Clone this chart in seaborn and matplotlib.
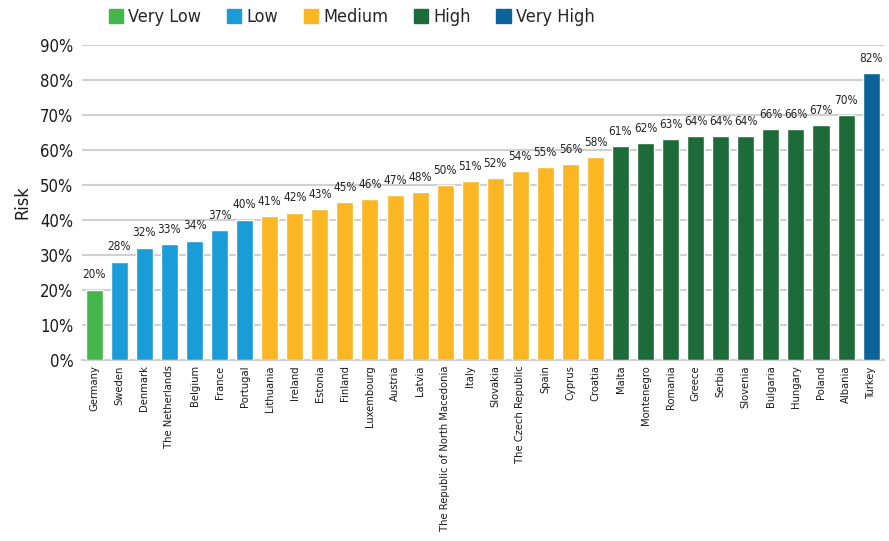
import matplotlib
matplotlib.use("Agg")
import matplotlib.pyplot as plt
from matplotlib.patches import Patch
from matplotlib.ticker import PercentFormatter
import pandas as pd
import seaborn as sns

# data
countries = ['Germany', 'Sweden', 'Denmark', 'The Netherlands', 'Belgium', 'France', 'Portugal',
             'Lithuania', 'Ireland', 'Estonia', 'Finland', 'Luxembourg', 'Austria', 'Latvia',
             'The Republic of North Macedonia', 'Italy', 'Slovakia', 'The Czech Republic', 'Spain',
             'Cyprus', 'Croatia', 'Malta', 'Montenegro', 'Romania', 'Greece', 'Serbia', 'Slovenia',
             'Bulgaria', 'Hungary', 'Poland', 'Albania', 'Turkey']
risk = [20, 28, 32, 33, 34, 37, 40,
        41, 42, 43, 45, 46, 47, 48,
        50, 51, 52, 54, 55,
        56, 58, 61, 62, 63, 64, 64, 64,
        66, 66, 67, 70, 82]
levels = ['Very Low'] + ['Low'] * 6 + ['Medium'] * 14 + ['High'] * 10 + ['Very High']
level_names = ['Very Low', 'Low', 'Medium', 'High', 'Very High']
level_colors = ['#45b64b', '#1a9cd8', '#fbb624', '#1d6b38', '#0a6399']

df = pd.DataFrame({'country': countries, 'risk': risk, 'level': levels})

sns.set_theme(style='white')
plt.rcParams['font.family'] = ['DejaVu Sans']
plt.rcParams['font.stretch'] = 'condensed'

fig = plt.figure(figsize=(8.89, 5.41), dpi=100)
ax = fig.add_axes([0.092, 0.335, 0.902, 0.582])

sns.barplot(data=df, x='country', y='risk', hue='level', hue_order=level_names,
            palette=dict(zip(level_names, level_colors)), dodge=False, width=0.68,
            saturation=1, legend=False, ax=ax, zorder=3)

for bar, v in zip(sorted(ax.patches, key=lambda p: p.get_x()), risk):
    if bar.get_height() > 0:
        ax.annotate(f'{v}%', (bar.get_x() + bar.get_width() / 2, bar.get_height()),
                    xytext=(0, 6), textcoords='offset points', ha='center', va='bottom',
                    fontsize=8.5, color='#222222')

ax.set_ylim(0, 90)
ax.set_yticks(range(0, 91, 10))
ax.yaxis.set_major_formatter(PercentFormatter(decimals=0))
ax.set_xlim(-0.5, len(countries) - 0.5)
ax.grid(axis='y', color='#d0d0d0', linewidth=1.5, zorder=0)
for s in ['top', 'right', 'left']:
    ax.spines[s].set_visible(False)
ax.spines['bottom'].set_color('#d0d0d0')
ax.spines['bottom'].set_linewidth(1.5)
ax.tick_params(axis='x', labelrotation=90, labelsize=8, length=0, pad=4, colors='#1a1a1a')
ax.tick_params(axis='y', labelsize=12, length=0, pad=6, colors='#1a1a1a')
ax.set_xlabel('')
ax.set_ylabel('Risk', fontsize=13, color='#1a1a1a', labelpad=6)

handles = [Patch(color=c, label=n) for n, c in zip(level_names, level_colors)]
fig.legend(handles=handles, loc='upper left', bbox_to_anchor=(0.11, 1.005), ncol=5,
           frameon=False, fontsize=13, handlelength=0.8, handleheight=0.8,
           handletextpad=0.3, columnspacing=1.4, borderaxespad=0.2)

fig.savefig('out.png', dpi=100)
